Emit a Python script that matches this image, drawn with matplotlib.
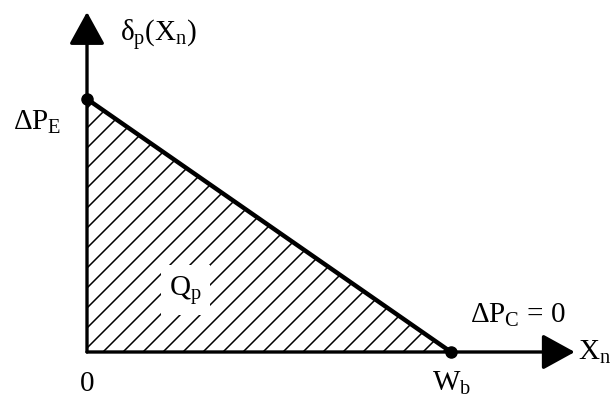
import numpy as np
import matplotlib
matplotlib.use("Agg")
import matplotlib.pyplot as plt
from matplotlib.patches import Polygon

plt.rcParams['mathtext.fontset'] = 'custom'
plt.rcParams['mathtext.rm'] = 'Liberation Serif'
plt.rcParams['mathtext.it'] = 'Liberation Serif'
plt.rcParams['font.family'] = 'Liberation Serif'

# pressure difference profile across the base width
x_n = [0.0, 1.0]          # 0 .. W_b
delta_p = [0.695, 0.0]    # dP_E .. dP_C = 0
x_axis_end = 1.34
y_axis_end = 0.934

fig = plt.figure(figsize=(6.16, 3.98), dpi=100)
ax = fig.add_axes([0, 0, 1, 1])
ax.set_xlim(-87 / 364, (616 - 87) / 364)
ax.set_ylim(-46 / 364, 352 / 364)
ax.set_aspect('equal')
ax.axis('off')

# shaded area under the profile
tri = Polygon([(x_n[0], 0), (x_n[0], delta_p[0]), (x_n[1], delta_p[1])],
              closed=True, facecolor='none', edgecolor='none')
ax.add_patch(tri)
step = 20 / 364
for c in np.arange(-1.0, 1.2, step):
    ln, = ax.plot([c, c + 1.0], [0, 1.0], color='black', lw=1.1,
                  solid_capstyle='butt', zorder=1)
    ln.set_clip_path(tri)

# axes with arrow heads
arrow = dict(arrowstyle='-|>,head_length=1.0,head_width=0.55', color='black',
             lw=2.4, shrinkA=0, shrinkB=0, mutation_scale=20)
ax.annotate('', xy=(x_axis_end, 0), xytext=(0, 0), arrowprops=arrow, zorder=3)
ax.annotate('', xy=(0, y_axis_end), xytext=(0, 0), arrowprops=arrow, zorder=3)

# profile line and end points
ax.plot(x_n, delta_p, color='black', lw=3.2, zorder=4, solid_capstyle='round')
ax.plot(x_n, delta_p, 'o', color='black', markersize=8, zorder=5)

fs = 21
ax.text(0.09, 0.87, r'$\delta_\mathrm{p}(X_\mathrm{n})$', fontsize=fs,
        ha='left', va='center')
ax.text(-0.07, 0.63, r'$\Delta P_\mathrm{E}$', fontsize=fs, ha='right', va='center')
ax.text(0.0, -0.088, '0', fontsize=fs, ha='center', va='center')
ax.text(1.0, -0.085, r'$W_\mathrm{b}$', fontsize=fs, ha='center', va='center')
ax.text(1.315, 0.1, r'$\Delta P_\mathrm{C}$ = 0', fontsize=fs, ha='right', va='center')
ax.text(1.35, 0.0, r'$X_\mathrm{n}$', fontsize=fs, ha='left', va='center')
ax.text(0.27, 0.17, r'$Q_\mathrm{p}$', fontsize=fs, ha='center', va='center',
        bbox=dict(facecolor='white', edgecolor='none', pad=6), zorder=2)

fig.savefig('out.png', dpi=100)
